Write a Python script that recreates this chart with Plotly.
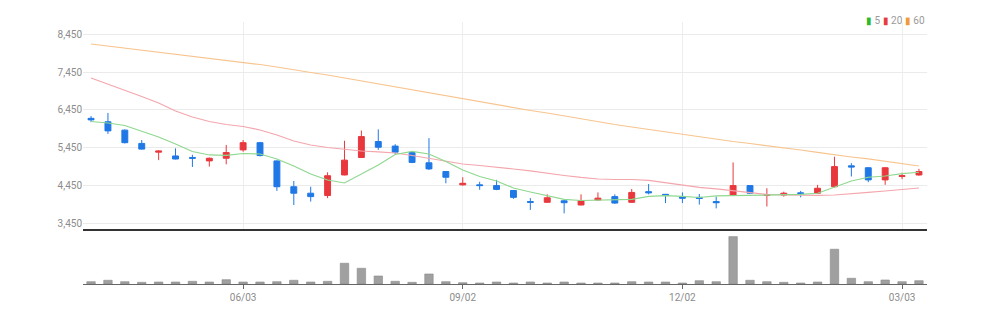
import plotly.graph_objects as go
import pandas as pd

# ---------------- data (weekly candles) ----------------
dates = pd.date_range("2024-04-01", periods=50, freq="7D").strftime("%Y-%m-%d").tolist()

open_ = [6230, 6140, 5920, 5570, 5340, 5240, 5200, 5110, 5180, 5400,
         5590, 5110, 4430, 4260, 4200, 4740, 5200, 5620, 5500, 5330,
         5060, 4830, 4480, 4480, 4460, 4330, 4040, 4020, 4060, 3950,
         4080, 4170, 4020, 4300, 4230, 4160, 4150, 4040, 4200, 4460,
         4200, 4210, 4270, 4260, 4430, 4980, 4930, 4610, 4700, 4740]
high = [6290, 6370, 5940, 5660, 5390, 5440, 5270, 5200, 5530, 5660,
        5610, 5120, 4580, 4430, 4810, 5640, 5910, 5940, 5550, 5360,
        5710, 4840, 4680, 4560, 4610, 4340, 4130, 4230, 4080, 4230,
        4280, 4230, 4370, 4500, 4240, 4280, 4240, 4170, 5070, 4470,
        4390, 4300, 4320, 4480, 5220, 5050, 4950, 4950, 4800, 4900]
low = [6130, 5820, 5570, 5410, 5130, 5150, 4950, 4960, 5020, 5350,
       5230, 4320, 3950, 4040, 4130, 4730, 5190, 5400, 5290, 5050,
       4870, 4520, 4460, 4350, 4340, 4110, 3820, 4010, 3730, 3940,
       4070, 3980, 4010, 4230, 4000, 4000, 3960, 3860, 4190, 4240,
       3910, 4170, 4150, 4250, 4410, 4700, 4550, 4480, 4630, 4720]
close = [6190, 5900, 5590, 5420, 5370, 5160, 5180, 5180, 5330, 5590,
         5250, 4430, 4260, 4170, 4720, 5130, 5750, 5470, 5340, 5070,
         4900, 4680, 4520, 4460, 4360, 4150, 4020, 4140, 4010, 4060,
         4130, 4000, 4280, 4270, 4200, 4130, 4120, 4010, 4460, 4260,
         4220, 4260, 4250, 4390, 4960, 4950, 4610, 4930, 4720, 4830]

ma5 = [6147, 6108, 6042, 5897, 5739, 5555, 5358, 5266, 5253, 5305,
       5292, 5161, 4976, 4766, 4608, 4529, 4766, 5003, 5279, 5358,
       5292, 5095, 4871, 4700, 4582, 4397, 4292, 4187, 4095, 4068,
       4082, 4082, 4095, 4174, 4195, 4174, 4147, 4187, 4195, 4187,
       4208, 4218, 4229, 4258, 4411, 4582, 4679, 4713, 4774, 4811]
ma20 = [7292, 7134, 6976, 6805, 6634, 6424, 6266, 6147, 6068, 6016,
        5924, 5792, 5634, 5529, 5463, 5411, 5371, 5345, 5318, 5253,
        5174, 5095, 5029, 4989, 4950, 4897, 4845, 4779, 4726, 4674,
        4634, 4621, 4621, 4595, 4529, 4463, 4411, 4371, 4318, 4266,
        4226, 4213, 4200, 4200, 4213, 4239, 4279, 4318, 4358, 4397]
ma60 = [8187, 8134, 8082, 8029, 7976, 7924, 7871, 7818, 7766, 7713,
        7647, 7582, 7503, 7437, 7371, 7292, 7226, 7147, 7068, 6990,
        6911, 6832, 6753, 6674, 6595, 6516, 6437, 6371, 6292, 6213,
        6134, 6068, 6003, 5937, 5871, 5805, 5739, 5687, 5621, 5568,
        5516, 5450, 5397, 5332, 5266, 5213, 5161, 5095, 5029, 4976]

volume = [46, 74, 46, 34, 40, 40, 54, 40, 86, 40,
          40, 46, 74, 40, 54, 414, 314, 160, 54, 34,
          200, 46, 26, 20, 40, 20, 40, 20, 40, 20,
          20, 20, 46, 40, 40, 20, 66, 46, 946, 74,
          46, 34, 20, 40, 694, 114, 46, 80, 46, 66]

price_ticks = [3450, 4450, 5450, 6450, 7450, 8450]
date_ticks = ["2024-06-03", "2024-09-02", "2024-12-02", "2025-03-03"]
date_tick_text = ["06/03", "09/02", "12/02", "03/03"]

# ---------------- styles ----------------
RED = "#e8383d"
BLUE = "#1f78e6"
C5 = "#8fd88f"
C20 = "#f4a6ad"
C60 = "#f8c48e"
FONT = "Liberation Sans Narrow, Roboto, Arial, sans-serif"

fig = go.Figure()

fig.add_trace(go.Scatter(x=dates, y=ma60, mode="lines", line=dict(color=C60, width=1.2),
                         xaxis="x", yaxis="y", hoverinfo="skip"))
fig.add_trace(go.Scatter(x=dates, y=ma20, mode="lines", line=dict(color=C20, width=1.2),
                         xaxis="x", yaxis="y", hoverinfo="skip"))
fig.add_trace(go.Scatter(x=dates, y=ma5, mode="lines", line=dict(color=C5, width=1.2),
                         xaxis="x", yaxis="y", hoverinfo="skip"))

fig.add_trace(go.Candlestick(
    x=dates, open=open_, high=high, low=low, close=close,
    increasing=dict(line=dict(color=RED, width=1), fillcolor=RED),
    decreasing=dict(line=dict(color=BLUE, width=1), fillcolor=BLUE),
    whiskerwidth=0, xaxis="x", yaxis="y"))

fig.add_trace(go.Bar(x=dates, y=volume, marker=dict(color="#a0a0a0", line=dict(color="#8a8a8a", width=0.6)),
                     width=7 * 86400000 * 0.5, xaxis="x2", yaxis="y2"))

xr = ["2024-03-28 16:00", "2025-03-13 08:00"]
fig.update_layout(
    width=988, height=319,
    margin=dict(l=83, r=61, t=22, b=35),
    paper_bgcolor="white", plot_bgcolor="white",
    showlegend=False,
    boxgap=0.5,
    font=dict(family=FONT, size=10, color="#8c8c8c"),
    xaxis=dict(domain=[0, 1], range=xr, type="date", rangeslider=dict(visible=False),
               tickvals=date_ticks, ticktext=[""] * 4, showgrid=True, gridcolor="#eeeeee",
               showline=True, linecolor="#333333", linewidth=2, ticks="", anchor="y",
               zeroline=False, fixedrange=True),
    yaxis=dict(domain=[0.21, 1], range=[3318, 8766], tickvals=price_ticks,
               ticktext=[f"{v:,}" for v in price_ticks], showgrid=True, gridcolor="#ebebeb",
               zeroline=False, showline=False, ticks="", anchor="x"),
    xaxis2=dict(domain=[0, 1], range=xr, type="date", matches="x",
                tickvals=date_ticks, ticktext=date_tick_text, showgrid=False,
                showline=True, linecolor="#666666", linewidth=1, ticks="outside",
                ticklen=4, tickcolor="#666666", anchor="y2", zeroline=False),
    yaxis2=dict(domain=[0, 0.195], range=[0, 1020], showticklabels=False, showgrid=False,
                zeroline=False, showline=False, ticks="", anchor="x2"),
)

legend_text = (f'<span style="color:#2db82d">▮</span> 5 '
               f'<span style="color:#e53b3b">▮</span> 20 '
               f'<span style="color:#f09a3c">▮</span> 60')
fig.add_annotation(text=legend_text, xref="paper", yref="paper", x=1.0, y=1.0 + 1.5 / 262,
                   xanchor="right", yanchor="middle", showarrow=False,
                   font=dict(family=FONT, size=10, color="#9a9a9a"))

fig.write_html("out.html")
